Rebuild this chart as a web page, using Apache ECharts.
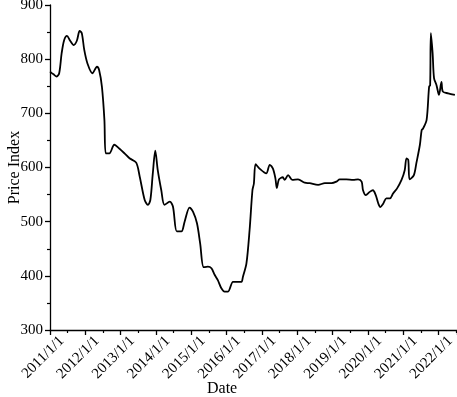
<!DOCTYPE html>
<html>
<head>
<meta charset="utf-8">
<script src="https://cdn.jsdelivr.net/npm/echarts@6/dist/echarts.min.js"></script>
<style>
html,body{margin:0;padding:0;background:#fff;}
#chart{width:457px;height:397px;}
</style>
</head>
<body>
<div id="chart"></div>
<script>
// Time as decimal years
const years = [
2011.00,2011.10,2011.19,2011.26,2011.33,2011.40,2011.48,2011.57,2011.67,2011.76,
2011.84,2011.90,2011.97,2012.06,2012.20,2012.33,2012.39,2012.47,2012.54,2012.58,
2012.68,2012.82,2012.96,2013.11,2013.25,2013.44,2013.54,2013.68,2013.77,2013.84,
2013.91,2013.98,2014.05,2014.15,2014.24,2014.39,2014.48,2014.59,2014.72,2014.81,
2014.95,2015.05,2015.16,2015.25,2015.35,2015.47,2015.57,2015.66,2015.75,2015.85,
2015.94,2016.04,2016.18,2016.32,2016.42,2016.46,2016.56,2016.65,2016.73,2016.77,
2016.82,2016.93,2017.12,2017.22,2017.31,2017.38,2017.42,2017.48,2017.59,2017.64,
2017.74,2017.86,2018.02,2018.21,2018.35,2018.59,2018.78,2018.97,2019.11,2019.20,
2019.39,2019.58,2019.72,2019.82,2019.86,2019.94,2020.05,2020.14,2020.22,2020.29,
2020.35,2020.43,2020.52,2020.62,2020.71,2020.82,2020.95,2021.04,2021.09,2021.14,
2021.18,2021.30,2021.37,2021.47,2021.52,2021.56,2021.66,2021.73,2021.76,2021.78,
2021.83,2021.87,2021.94,2022.01,2022.08,2022.12,2022.27,2022.46
];
const prices = [
777,772,768,774,811,835,843,834,826,834,
852,848,817,792,774,786,780,749,688,626,
626,642,635,626,617,609,583,540,531,540,
589,631,595,558,531,537,528,482,482,500,
526,518,497,460,416,417,414,402,392,377,
371,371,389,389,389,398,423,485,558,570,
606,598,589,605,598,580,562,578,582,577,
586,577,578,572,571,568,571,571,574,578,
578,577,578,574,558,549,555,558,549,534,
527,533,543,543,552,561,577,595,617,614,
578,586,608,642,669,672,688,749,752,848,
811,765,752,734,758,740,737,734
];
const yTicks = [300,400,500,600,700,800,900];
const xTickYears = [2011,2012,2013,2014,2015,2016,2017,2018,2019,2020,2021,2022];

const serif = '"Liberation Serif","Times New Roman",serif';
const chart = echarts.init(document.getElementById('chart'));
chart.setOption({
  animation:false,
  backgroundColor:'#fff',
  grid:{left:50,right:0,top:5,bottom:67,containLabel:false,outerBoundsMode:'none'},
  xAxis:{
    type:'value',min:2011,max:2022.52,interval:1,
    axisLine:{show:true,lineStyle:{color:'#000',width:1.3}},
    axisTick:{show:true,length:5,lineStyle:{color:'#000',width:1.3}},
    minorTick:{show:true,splitNumber:2,length:3,lineStyle:{color:'#000',width:1.2}},
    splitLine:{show:false},
    axisLabel:{rotate:45,color:'#000',fontFamily:serif,fontSize:15,margin:-3,
      align:'right',verticalAlign:'top',padding:[9,0,0,0],
      showMaxLabel:false,
      formatter:function(v){return xTickYears.indexOf(Math.round(v))>=0?Math.round(v)+'/1/1':'';}}
  },
  yAxis:{
    type:'value',min:300,max:900,interval:100,
    name:'Price Index',nameLocation:'middle',nameGap:27,nameMoveOverlap:false,
    nameTextStyle:{color:'#000',fontFamily:serif,fontSize:16},
    axisLine:{show:true,lineStyle:{color:'#000',width:1.3}},
    axisTick:{show:true,length:5,lineStyle:{color:'#000',width:1.3}},
    minorTick:{show:true,splitNumber:2,length:3,lineStyle:{color:'#000',width:1.2}},
    splitLine:{show:false},
    axisLabel:{color:'#000',fontFamily:serif,fontSize:15,margin:7,
      formatter:function(v){return yTicks.indexOf(v)>=0?String(v):'';}}
  },
  graphic:[{type:'text',left:207,top:381,style:{text:'Date',fill:'#000',font:'16px '+serif}}],
  series:[{
    type:'line',
    data:years.map((y,i)=>[y,prices[i]]),
    showSymbol:false,smooth:0.3,
    lineStyle:{color:'#000',width:1.8}
  }]
});
</script>
</body>
</html>
